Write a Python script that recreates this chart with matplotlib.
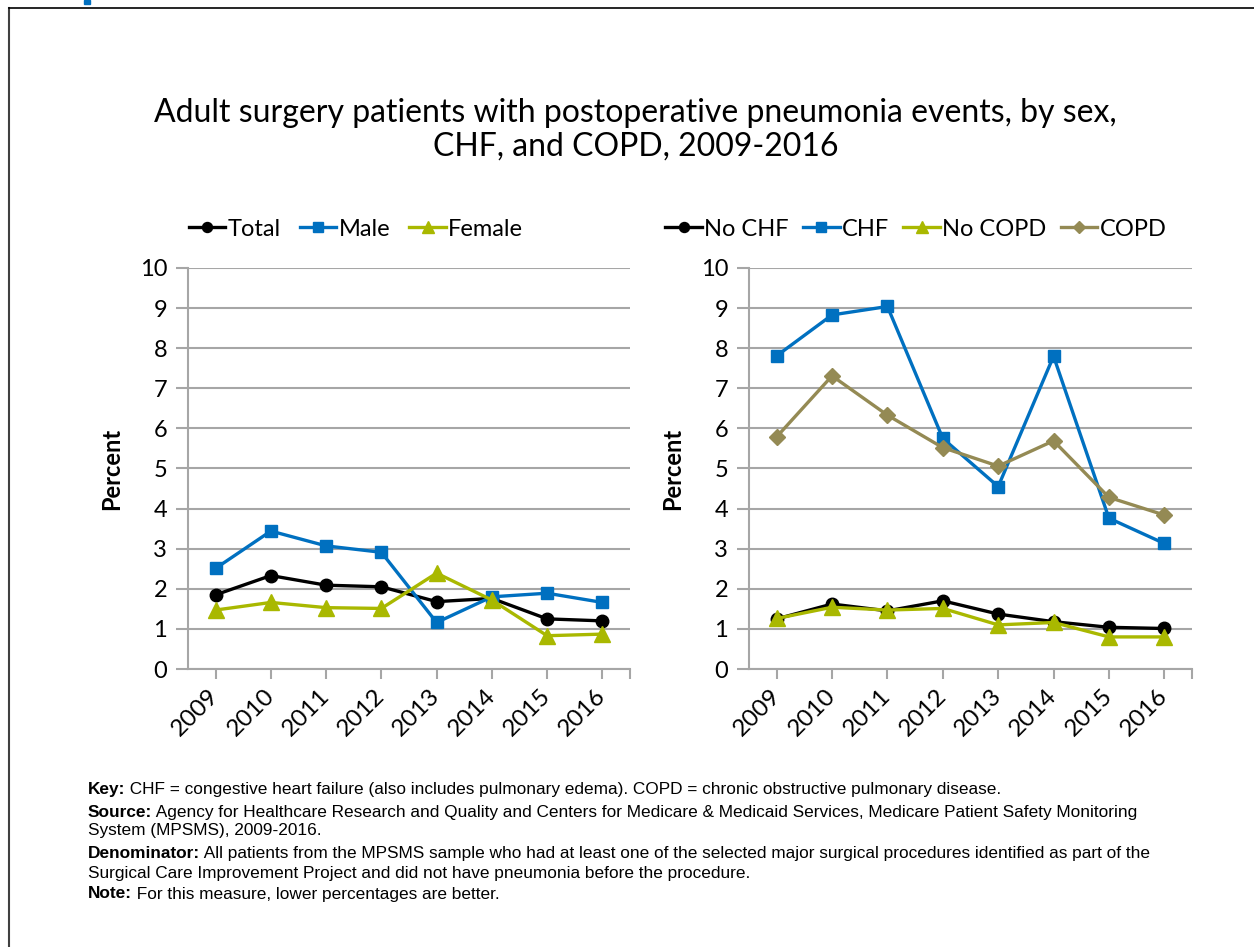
import matplotlib
matplotlib.use("Agg")
import matplotlib.pyplot as plt
from matplotlib.lines import Line2D
import numpy as np

years = ["2009", "2010", "2011", "2012", "2013", "2014", "2015", "2016"]

total = [1.85, 2.33, 2.09, 2.05, 1.68, 1.76, 1.25, 1.20]
male = [2.51, 3.44, 3.07, 2.91, 1.16, 1.80, 1.89, 1.66]
female = [1.47, 1.66, 1.53, 1.51, 2.39, 1.72, 0.83, 0.87]

no_chf = [1.25, 1.62, 1.45, 1.70, 1.37, 1.18, 1.04, 1.01]
chf = [7.81, 8.83, 9.04, 5.75, 4.55, 7.80, 3.76, 3.13]
no_copd = [1.26, 1.54, 1.47, 1.51, 1.10, 1.16, 0.80, 0.80]
copd = [5.79, 7.31, 6.33, 5.52, 5.06, 5.69, 4.28, 3.84]

BLACK = "#000000"
BLUE = "#0070C0"
GREEN = "#A9B800"
OLIVE = "#948A54"
GRID = "#A6A6A6"

plt.rcParams["font.family"] = ["Lato", "DejaVu Sans"]

fig = plt.figure(figsize=(12.54, 9.47), dpi=100)

# frame around the figure
fig.add_artist(Line2D([9/1254, 9/1254], [0, 1 - 8/947], transform=fig.transFigure, color="#404040", lw=1.5))
fig.add_artist(Line2D([9/1254, 1], [1 - 8/947, 1 - 8/947], transform=fig.transFigure, color="#000000", lw=1.2))
fig.add_artist(plt.Rectangle((84/1254, 1 - 4/947), 6/1254, 4/947, transform=fig.transFigure, color=BLUE))

fig.text(0.507, 1 - 130/947, "Adult surgery patients with postoperative pneumonia events, by sex,\nCHF, and COPD, 2009-2016",
         ha="center", va="center", fontsize=23, linespacing=1.15)

x = np.arange(len(years))


def setup(ax):
    ax.set_xlim(-0.5, len(years) - 0.5)
    ax.set_ylim(0, 10)
    ax.set_yticks(range(0, 11))
    ax.set_xticks(x)
    ax.set_xticks([len(years) - 0.5], minor=True)
    ax.set_xticklabels(years)
    ax.tick_params(axis="y", length=9, color=GRID, width=1.5, labelsize=17, pad=6)
    ax.tick_params(axis="x", which="both", length=7, color=GRID, width=1.5, labelsize=17.5, pad=10)
    for lab in ax.get_xticklabels():
        lab.set_rotation(45)
        lab.set_ha("right")
        lab.set_va("center")
        lab.set_rotation_mode("anchor")
    ax.grid(axis="y", color=GRID, lw=1.5)
    ax.set_axisbelow(True)
    for s in ["top", "right"]:
        ax.spines[s].set_visible(False)
    for s in ["left", "bottom"]:
        ax.spines[s].set_color(GRID)
        ax.spines[s].set_linewidth(1.5)
    ax.set_ylabel("Percent", fontsize=17, fontweight="bold", labelpad=12)


lw = 2.4
ax1 = fig.add_axes([188/1254, 1 - 669/947, 442/1254, 401/947])
ax1.plot(x, total, color=BLACK, lw=lw, marker="o", ms=9, label="Total")
ax1.plot(x, male, color=BLUE, lw=lw, marker="s", ms=9, label="Male")
ax1.plot(x, female, color=GREEN, lw=lw, marker="^", ms=11, label="Female")
setup(ax1)
ax1.legend(loc="center", bbox_to_anchor=(356/1254, 1 - 229/947), bbox_transform=fig.transFigure,
           ncol=3, frameon=False, fontsize=17, handlelength=1.55, handletextpad=0.1, columnspacing=0.8,
           borderaxespad=0, markerscale=0.8)

ax2 = fig.add_axes([749/1254, 1 - 669/947, 443/1254, 401/947])
ax2.plot(x, no_chf, color=BLACK, lw=lw, marker="o", ms=9, label="No CHF")
ax2.plot(x, chf, color=BLUE, lw=lw, marker="s", ms=9, label="CHF")
ax2.plot(x, no_copd, color=GREEN, lw=lw, marker="^", ms=11, label="No COPD")
ax2.plot(x, copd, color=OLIVE, lw=lw, marker="D", ms=8, label="COPD")
setup(ax2)
ax2.legend(loc="center", bbox_to_anchor=(916/1254, 1 - 229/947), bbox_transform=fig.transFigure,
           ncol=4, frameon=False, fontsize=17, handlelength=1.55, handletextpad=0.1, columnspacing=0.6,
           borderaxespad=0, markerscale=0.8)

# footnotes
notes = [
    ("Key:", " CHF = congestive heart failure (also includes pulmonary edema). COPD = chronic obstructive pulmonary disease.", 789),
    ("Source:", " Agency for Healthcare Research and Quality and Centers for Medicare & Medicaid Services, Medicare Patient Safety Monitoring", 812),
    ("", "System (MPSMS), 2009-2016.", 831),
    ("Denominator:", " All patients from the MPSMS sample who had at least one of the selected major surgical procedures identified as part of the", 853),
    ("", "Surgical Care Improvement Project and did not have pneumonia before the procedure.", 873),
    ("Note:", " For this measure, lower percentages are better.", 894),
]
fnfam = ["Liberation Sans", "DejaVu Sans"]
renderer = fig.canvas.get_renderer()
for bold, rest, ypx in notes:
    xx = 88/1254
    if bold:
        t = fig.text(xx, 1 - ypx/947, bold, fontsize=12.4, fontweight="bold", family=fnfam, va="center", ha="left")
        bb = t.get_window_extent(renderer)
        xx = bb.x1 / fig.bbox.width
    fig.text(xx, 1 - ypx/947, rest, fontsize=12.4, family=fnfam, va="center", ha="left")

fig.savefig("out.png", dpi=100)
